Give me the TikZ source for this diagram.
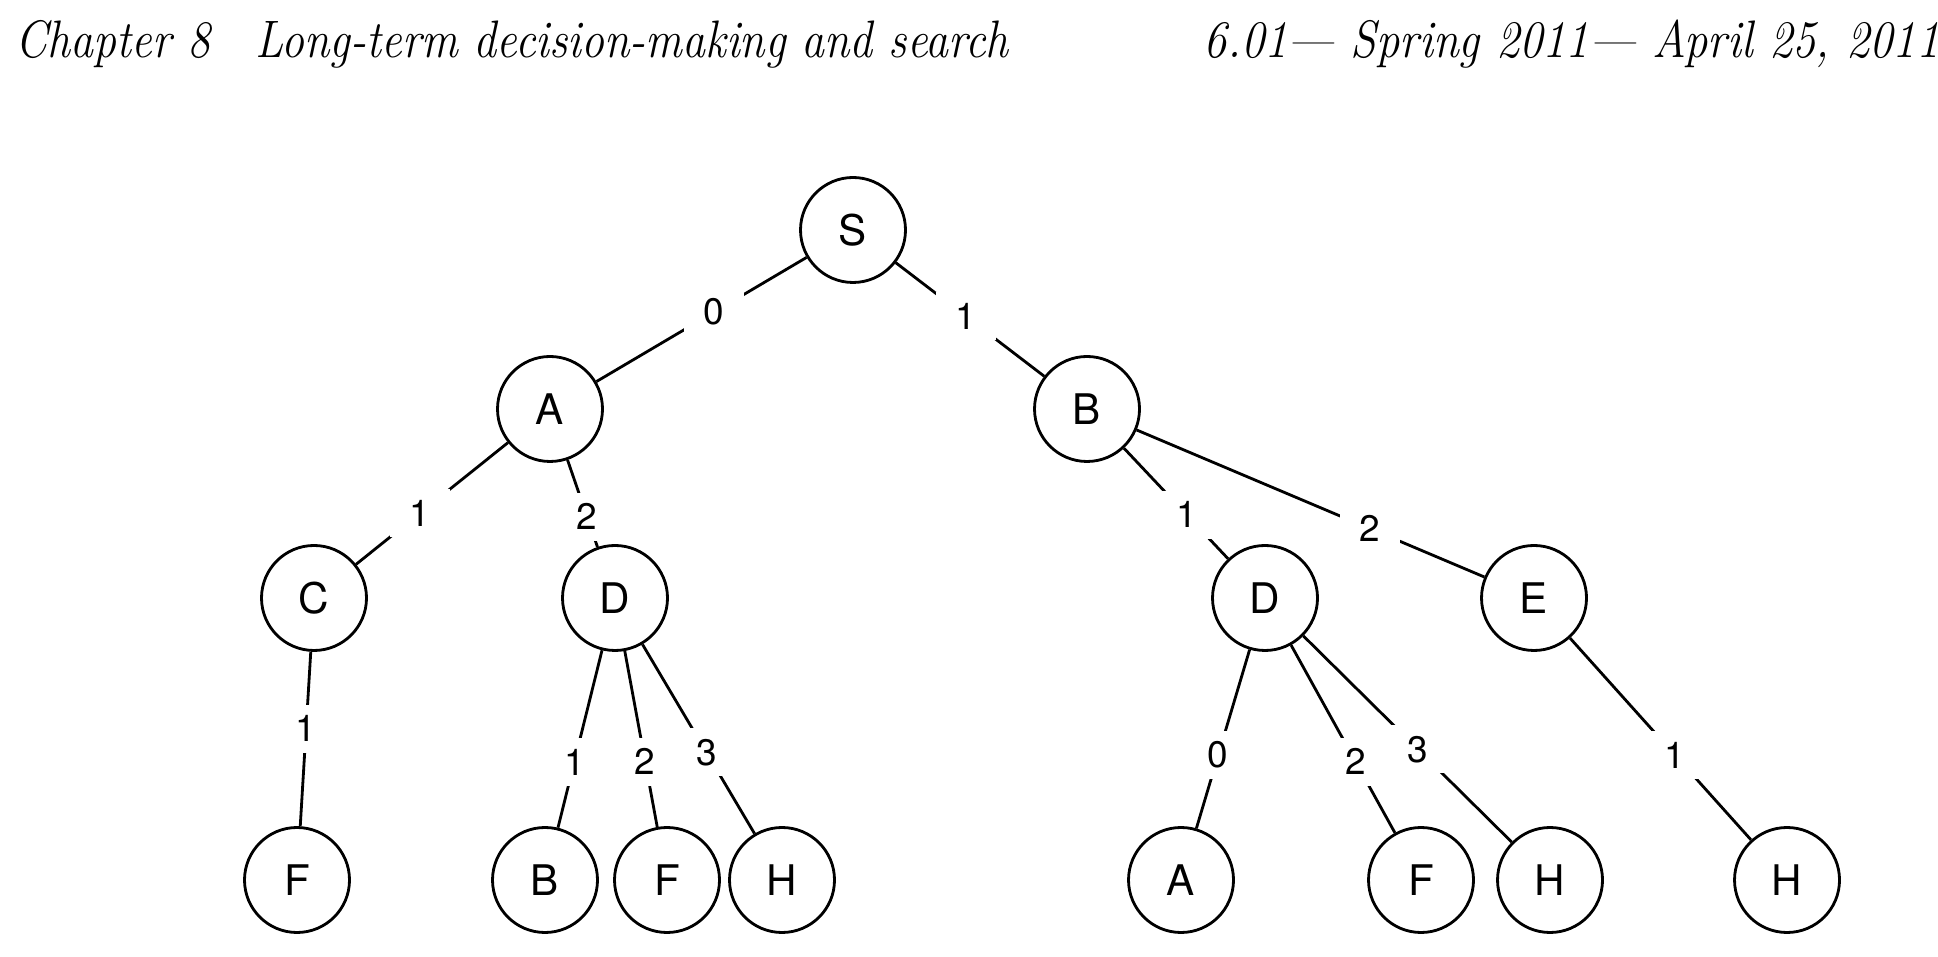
\documentclass[tikz,border=0pt]{standalone}
\usepackage{fontspec}
\setsansfont{TeX Gyre Heros}
\usepackage{tikz}

\begin{document}
\begin{tikzpicture}[
  etat/.style={draw, circle, line width=0.8pt, minimum size=1.05cm, inner sep=0pt,
    font=\sffamily\fontsize{12}{12}\selectfont},
  cout/.style={fill=white, inner sep=0pt, minimum width=0.6cm, minimum height=0.48cm,
    font=\sffamily\fontsize{10.5}{10.5}\selectfont},
  arete/.style={line width=0.8pt}]
  % Cadre de la page
  \useasboundingbox (0,0) rectangle (19.38,9.56);

  % En-tete
  \node[anchor=base west, inner sep=0pt, font=\itshape\fontsize{15}{18}\selectfont] (titre) at (0.15,8.98)
    {\scalebox{0.87}[1]{Chapter 8\quad Long-term decision-making and search}};
  \node[anchor=base east, inner sep=0pt, font=\itshape\fontsize{15}{18}\selectfont] (date) at (19.40,8.98)
    {\scalebox{0.885}[1]{6.01--- Spring 2011--- April 25, 2011}};

  % Racine et premier niveau
  \node[etat] (S) at (8.53,7.26) {S};
  \node[etat] (A) at (5.50,5.47) {A};
  \node[etat] (B) at (10.87,5.47) {B};

  % Deuxieme niveau
  \node[etat] (C) at (3.14,3.58) {C};
  \node[etat] (D1) at (6.15,3.58) {D};
  \node[etat] (D2) at (12.65,3.58) {D};
  \node[etat] (E) at (15.34,3.58) {E};

  % Feuilles
  \node[etat] (F1) at (2.97,0.76) {F};
  \node[etat] (B2) at (5.45,0.76) {B};
  \node[etat] (F2) at (6.67,0.76) {F};
  \node[etat] (H1) at (7.82,0.76) {H};
  \node[etat] (A2) at (11.81,0.76) {A};
  \node[etat] (F3) at (14.21,0.76) {F};
  \node[etat] (H2) at (15.50,0.76) {H};
  \node[etat] (H3) at (17.87,0.76) {H};

  % Aretes et couts
  \draw[arete] (S) -- node[cout, pos=0.44] {0} (A);
  \draw[arete] (S) -- node[cout, pos=0.47] {1} (B);
  \draw[arete] (A) -- node[cout, pos=0.58] {1} (C);
  \draw[arete] (A) -- node[cout, pos=0.65] {2} (D1);
  \draw[arete] (B) -- node[cout, pos=0.60] {1} (D2);
  \draw[arete] (B) -- node[cout, pos=0.67] {2} (E);
  \draw[arete] (C) -- node[cout, pos=0.44] {1} (F1);
  \draw[arete] (D1) -- node[cout, pos=0.63] {1} (B2);
  \draw[arete] (D1) -- node[cout, pos=0.63] {2} (F2);
  \draw[arete] (D1) -- node[cout, pos=0.57] {3} (H1);
  \draw[arete] (D2) -- node[cout, pos=0.59] {0} (A2);
  \draw[arete] (D2) -- node[cout, pos=0.62] {2} (F3);
  \draw[arete] (D2) -- node[cout, pos=0.55] {3} (H2);
  \draw[arete] (E) -- node[cout, pos=0.58] {1} (H3);
\end{tikzpicture}
\end{document}
